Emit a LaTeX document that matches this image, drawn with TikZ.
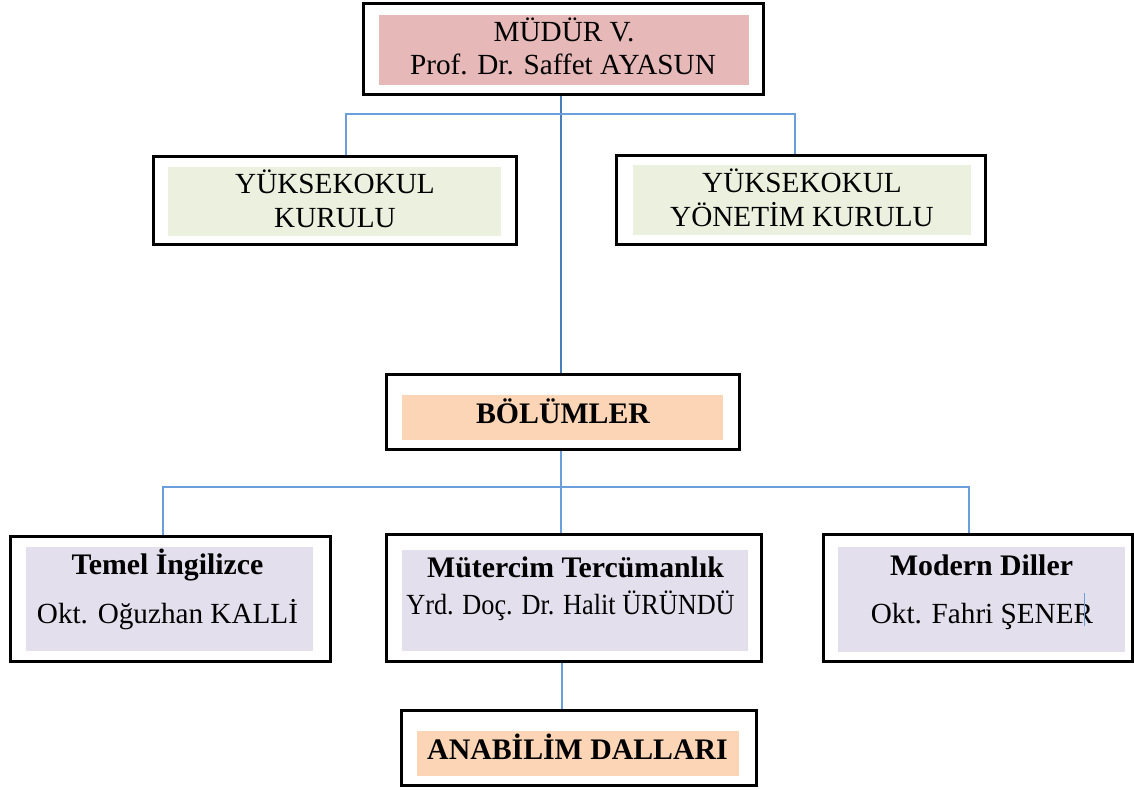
\documentclass[tikz,border=0pt]{standalone}
\usepackage{fontspec}
\setmainfont{Liberation Serif}
\usetikzlibrary{fit,backgrounds}
\definecolor{pinkfill}{HTML}{E6B9B8}
\definecolor{greenfill}{HTML}{EBF1DE}
\definecolor{peachfill}{HTML}{FBD5B5}
\definecolor{lavfill}{HTML}{E4DFEC}
\definecolor{darkline}{HTML}{4A7EBB}
\definecolor{lightline}{HTML}{6A9FDB}
\begin{document}
\begin{tikzpicture}[x=1pt,y=-1pt,
  outerbox/.style={draw=black,line width=3pt,fill=white,inner sep=0pt},
  fillbox/.style={draw=none,inner sep=0pt},
  lbl/.style={inner sep=0pt,anchor=base,font=\fontsize{29.2}{34}\selectfont},
  blbl/.style={inner sep=0pt,anchor=base,font=\fontsize{29.8}{34}\selectfont\bfseries},
  mainline/.style={draw=darkline,line width=2pt},
  branchline/.style={draw=lightline,line width=1.5pt},
  thinline/.style={draw=lightline,line width=1.2pt}]
\useasboundingbox (0,0) rectangle (1134,789);

% outer boxes
\node[outerbox,fit={(363.5,3.5) (763.5,94.5)}] (top) {};
\node[outerbox,fit={(153.5,156.5) (516.5,244.5)}] (yk1) {};
\node[outerbox,fit={(616.5,155.5) (985.5,244.5)}] (yk2) {};
\node[outerbox,fit={(386.5,374.5) (739.5,449.5)}] (bol) {};
\node[outerbox,fit={(10.5,536.5) (330.5,661.5)}] (tem) {};
\node[outerbox,fit={(386.5,534.5) (761.5,661.5)}] (mut) {};
\node[outerbox,fit={(823.5,534.5) (1132,661.5)}] (mod) {};
\node[outerbox,fit={(401.5,710.5) (756.5,785.5)}] (ana) {};

% inner coloured fields
\node[fillbox,fill=pinkfill,fit={(379,15) (749,85)}] (topin) {};
\node[fillbox,fill=greenfill,fit={(168,167) (501,236)}] (yk1in) {};
\node[fillbox,fill=greenfill,fit={(633,165) (971,235)}] (yk2in) {};
\node[fillbox,fill=peachfill,fit={(402,395) (723,440)}] (bolin) {};
\node[fillbox,fill=lavfill,fit={(26,547) (313,651)}] (temin) {};
\node[fillbox,fill=lavfill,fit={(402,550) (748,651)}] (mutin) {};
\node[fillbox,fill=lavfill,fit={(838,547) (1125,652)}] (modin) {};
\node[fillbox,fill=peachfill,fit={(417,731) (739,776)}] (anain) {};

% texts
\node[lbl] (t1a) at (564,42) {MÜDÜR V.};
\node[lbl] (t1b) at (563,75) {Prof. Dr. Saffet AYASUN};
\node[lbl] (t2a) at (335,193) {YÜKSEKOKUL};
\node[lbl] (t2b) at (335,227) {KURULU};
\node[lbl] (t3a) at (802,192) {YÜKSEKOKUL};
\node[lbl] (t3b) at (802,226) {YÖNETİM KURULU};
\node[blbl] (t4) at (563,423) {BÖLÜMLER};
\node[blbl] (t5a) at (167.5,574) {Temel İngilizce};
\node[lbl] (t5b) at (167.5,623) {Okt. Oğuzhan KALLİ};
\node[blbl] (t6a) at (575.5,577) {Mütercim Tercümanlık};
\node[lbl] (t6b) at (570.5,614) {\scalebox{0.9}[1]{Yrd. Doç. Dr. Halit ÜRÜNDÜ}};
\node[blbl] (t7a) at (981.5,575) {Modern Diller};
\node[lbl] (t7b) at (982,623) {Okt. Fahri ŞENER};
\node[blbl] (t8) at (577.5,759) {ANABİLİM DALLARI};

% connector junctions
\coordinate (bm) at (561,114);
\coordinate (b1) at (346,114);
\coordinate (b2) at (795,114);
\coordinate (c0) at (561,487);
\coordinate (c1) at (163,487);
\coordinate (c2) at (969,487);
\coordinate (c3) at (562,690);

\begin{pgfonlayer}{background}
\draw[mainline] (top.south -| bm) -- (bol.north -| bm);
\draw[branchline] (b1 |- yk1.north) -- (b1) -- (b2) -- (b2 |- yk2.north);
\draw[thinline] (bol.south -| c0) -- (c0 |- mut.north);
\draw[thinline] (c1 |- tem.north) -- (c1) -- (c2) -- (c2 |- mod.north);
\draw[thinline] (mut.south -| c3) -- (c3 |- ana.north);
\end{pgfonlayer}

% stray mark in the Modern Diller box
\coordinate (s1) at (1084,593);
\coordinate (s2) at (1084,626);
\draw[draw=lightline,line width=1pt] (s1) -- (s2);
\end{tikzpicture}
\end{document}
